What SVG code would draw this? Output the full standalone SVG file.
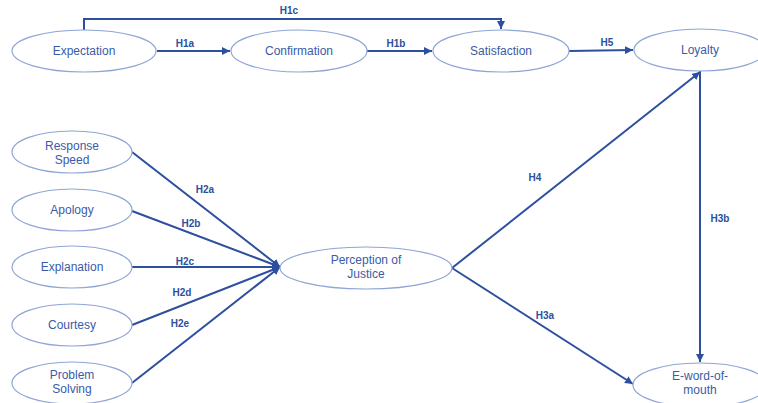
<svg xmlns="http://www.w3.org/2000/svg" width="758" height="403" viewBox="0 0 758 403">
<defs>
<marker id="arr" viewBox="0 0 10 10" refX="10" refY="5" markerWidth="4" markerHeight="4" orient="auto" markerUnits="strokeWidth">
<path d="M0,0 L10,5 L0,10 z" fill="#2c4f9e"/>
</marker>
<style>
.node ellipse{fill:#ffffff;stroke:#8ea5d6;stroke-width:1.2}
.node text{font-family:"Liberation Sans",Arial,sans-serif;font-size:12px;fill:#3a5ba8;text-anchor:middle}
.conn line,.conn polyline{stroke:#2c4f9e;stroke-width:2;fill:none}
.lbl{font-family:"Liberation Sans",Arial,sans-serif;font-size:10px;font-weight:bold;fill:#2c4f9e;text-anchor:middle}
</style>
</defs>
<rect width="758" height="403" fill="#ffffff"/>
<g class="conn">
<polyline points="84,30 84,19 501,19 501,29" marker-end="url(#arr)"/>
<line x1="157" y1="51" x2="230" y2="51" marker-end="url(#arr)"/>
<line x1="367" y1="51" x2="432" y2="51" marker-end="url(#arr)"/>
<line x1="569" y1="51" x2="633" y2="50" marker-end="url(#arr)"/>
<line x1="132" y1="152" x2="280" y2="267" marker-end="url(#arr)"/>
<line x1="132" y1="211" x2="280" y2="267" marker-end="url(#arr)"/>
<line x1="132" y1="267" x2="280" y2="267" marker-end="url(#arr)"/>
<line x1="132" y1="325" x2="280" y2="267" marker-end="url(#arr)"/>
<line x1="132" y1="383" x2="280" y2="267" marker-end="url(#arr)"/>
<line x1="452" y1="268" x2="700" y2="72" marker-end="url(#arr)"/>
<line x1="452" y1="268" x2="633" y2="384" marker-end="url(#arr)"/>
<line x1="700" y1="71" x2="700" y2="362" marker-end="url(#arr)"/>
<text class="lbl" x="289" y="14">H1c</text>
<text class="lbl" x="185" y="47">H1a</text>
<text class="lbl" x="396" y="47">H1b</text>
<text class="lbl" x="607" y="46">H5</text>
<text class="lbl" x="205" y="193">H2a</text>
<text class="lbl" x="191" y="227">H2b</text>
<text class="lbl" x="185" y="265">H2c</text>
<text class="lbl" x="182" y="296">H2d</text>
<text class="lbl" x="180" y="327">H2e</text>
<text class="lbl" x="535" y="181">H4</text>
<text class="lbl" x="545" y="319">H3a</text>
<text class="lbl" x="720" y="222">H3b</text>
</g>
<g id="expectation" class="node"><ellipse cx="84" cy="51" rx="72" ry="21"/><text x="84" y="55">Expectation</text></g>
<g id="confirmation" class="node"><ellipse cx="299" cy="51" rx="68" ry="21"/><text x="299" y="55">Confirmation</text></g>
<g id="satisfaction" class="node"><ellipse cx="501" cy="51" rx="68" ry="21"/><text x="501" y="55">Satisfaction</text></g>
<g id="loyalty" class="node"><ellipse cx="700" cy="50" rx="66" ry="21"/><text x="700" y="54">Loyalty</text></g>
<g id="response-speed" class="node"><ellipse cx="72" cy="152" rx="60" ry="21"/><text x="72" y="150">Response</text><text x="72" y="163.5">Speed</text></g>
<g id="apology" class="node"><ellipse cx="72" cy="210" rx="60" ry="21"/><text x="72" y="214">Apology</text></g>
<g id="explanation" class="node"><ellipse cx="72" cy="267" rx="60" ry="21"/><text x="72" y="271">Explanation</text></g>
<g id="courtesy" class="node"><ellipse cx="72" cy="325" rx="60" ry="21"/><text x="72" y="329">Courtesy</text></g>
<g id="problem-solving" class="node"><ellipse cx="72" cy="383" rx="60" ry="21"/><text x="72" y="379">Problem</text><text x="72" y="392.5">Solving</text></g>
<g id="perception-of-justice" class="node"><ellipse cx="366" cy="268" rx="86" ry="21"/><text x="366" y="264">Perception of</text><text x="366" y="277.5">Justice</text></g>
<g id="e-word-of-mouth" class="node"><ellipse cx="700" cy="385" rx="67" ry="22"/><text x="700" y="380">E-word-of-</text><text x="700" y="393.5">mouth</text></g>
</svg>
